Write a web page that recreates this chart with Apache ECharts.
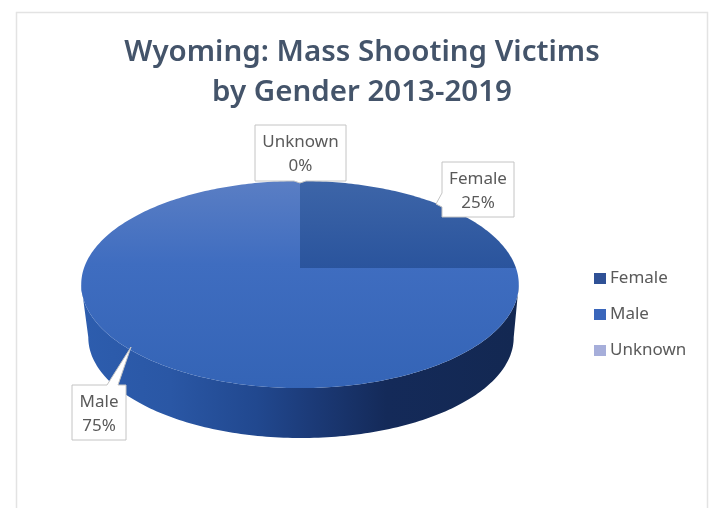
<!DOCTYPE html>
<html>
<head>
<meta charset="utf-8">
<style>html,body{margin:0;padding:0;background:#fff}#c{width:710px;height:508px}</style>
<script src="https://cdn.jsdelivr.net/npm/echarts@6/dist/echarts.min.js"></script>
</head>
<body>
<div id="c"></div>
<script>
// ---- data ----
const categories = ['Female', 'Male', 'Unknown'];
const victimShare = [25, 75, 0];
const legendColors = ['#2f5196', '#3a66bb', '#a6aeda'];

// ---- layout ----
const FONT = '"Noto Sans", sans-serif';
const TEXT = '#5a5a5a';
const PERSP = 0.159;
const TOP_DISC = { cx: 300, cy: 268, r: 216, s: 101 };
const BASE_DISC = { cx: 301, cy: 321.5, r: 210, s: 98 };
const WALL_FROM = 99, WALL_TO = 261;
const callouts = {
  Female: { x0: 442, y0: 162, x1: 514, y1: 217, side: 'left', tip: [436, 204], a: 193, b: 207 },
  Male: { x0: 72, y0: 385, x1: 126, y1: 440, side: 'top', tip: [131, 347], a: 107, b: 118 },
  Unknown: { x0: 255, y0: 125, x1: 346, y1: 181, side: 'bottom', tip: [300, 183], a: 294, b: 306 }
};

const total = victimShare.reduce((a, b) => a + b, 0);
function rimPoint(disc, deg) {
  const t = deg * Math.PI / 180;
  const X = Math.sin(t), Y = Math.cos(t), w = 1 + PERSP * Y;
  return [disc.cx + disc.r * X / w, disc.cy - disc.s * Y / w];
}
function arc(disc, a0, a1) {
  const pts = [], n = Math.max(2, Math.ceil(Math.abs(a1 - a0)));
  for (let i = 0; i <= n; i++) pts.push(rimPoint(disc, a0 + (a1 - a0) * i / n));
  return pts;
}
function grad(x, y, x2, y2, stops) {
  return {
    type: 'linear', global: true, x, y, x2, y2,
    colorStops: stops.map(s => ({ offset: s[0], color: s[1] }))
  };
}
const wallFill = grad(84, 0, 516, 0, [
  [0, '#2d5dae'], [0.2, '#2a57a5'], [0.4, '#21488f'], [0.52, '#1c3b79'],
  [0.7, '#142a59'], [1, '#132852']
]);
const topFills = [
  grad(0, 181, 0, 268, [[0, '#3d65a8'], [1, '#2a549d']]),
  grad(0, 181, 0, 388, [[0, '#5a7ec4'], [0.4, '#3f6dc0'], [1, '#3464b6']]),
  grad(0, 181, 0, 388, [[0, '#a6aeda'], [1, '#a6aeda']])
];

function calloutShape(c) {
  const { x0, y0, x1, y1, side, tip, a, b } = c;
  if (side === 'left') return [[x0, y0], [x1, y0], [x1, y1], [x0, y1], [x0, b], tip, [x0, a]];
  if (side === 'top') return [[x0, y0], [a, y0], tip, [b, y0], [x1, y0], [x1, y1], [x0, y1]];
  return [[x0, y0], [x1, y0], [x1, y1], [b, y1], tip, [a, y1], [x0, y1]];
}

function makeRender(i) {
  const before = victimShare.slice(0, i).reduce((a, b) => a + b, 0);
  return function () {
    const children = [];
    const a0 = before / total * 360, a1 = (before + victimShare[i]) / total * 360;
    if (a1 > a0) {
      const w0 = Math.max(a0, WALL_FROM), w1 = Math.min(a1, WALL_TO);
      if (w1 > w0) {
        children.push({
          type: 'polygon',
          shape: { points: arc(TOP_DISC, w0, w1).concat(arc(BASE_DISC, w1, w0)) },
          style: { fill: wallFill }
        });
      }
      children.push({
        type: 'polygon',
        shape: { points: [[TOP_DISC.cx, TOP_DISC.cy]].concat(arc(TOP_DISC, a0, a1)) },
        style: { fill: topFills[i] }
      });
    }
    const c = callouts[categories[i]];
    children.push({
      type: 'polygon',
      shape: { points: calloutShape(c) },
      style: { fill: '#ffffff', stroke: '#c4c4c4', lineWidth: 1 }
    });
    children.push({
      type: 'text',
      style: {
        text: categories[i] + '\n' + Math.round(victimShare[i] / total * 100) + '%',
        x: (c.x0 + c.x1) / 2, y: (c.y0 + c.y1) / 2 + 1.5,
        align: 'center', verticalAlign: 'middle',
        fontFamily: FONT, fontSize: 17, lineHeight: 24, fill: TEXT
      }
    });
    return { type: 'group', children };
  };
}

const chart = echarts.init(document.getElementById('c'), null, { renderer: 'canvas' });
chart.setOption({
  animation: false,
  backgroundColor: '#ffffff',
  title: {
    text: 'Wyoming: Mass Shooting Victims\nby Gender 2013-2019',
    left: 357, top: 28, textAlign: 'center',
    textStyle: { fontFamily: FONT, fontSize: 29.5, fontWeight: 600, color: '#44546a', lineHeight: 40 }
  },
  legend: {
    orient: 'vertical', left: 589, top: 265,
    data: categories, icon: 'rect', itemWidth: 12, itemHeight: 11, itemGap: 19,
    selectedMode: false,
    textStyle: { fontFamily: FONT, fontSize: 17, color: TEXT, padding: [0, 0, 0, -1] }
  },
  graphic: [{
    type: 'rect', silent: true, z: -1,
    shape: { x: 16.5, y: 12.5, width: 691, height: 520 },
    style: { fill: '#ffffff', stroke: '#e3e3e3', lineWidth: 1.5 }
  }],
  series: categories.map((name, i) => ({
    type: 'custom', name, coordinateSystem: 'none', silent: true,
    itemStyle: { color: legendColors[i] },
    renderItem: makeRender(i),
    data: [[victimShare[i]]]
  }))
});
</script>
</body>
</html>
